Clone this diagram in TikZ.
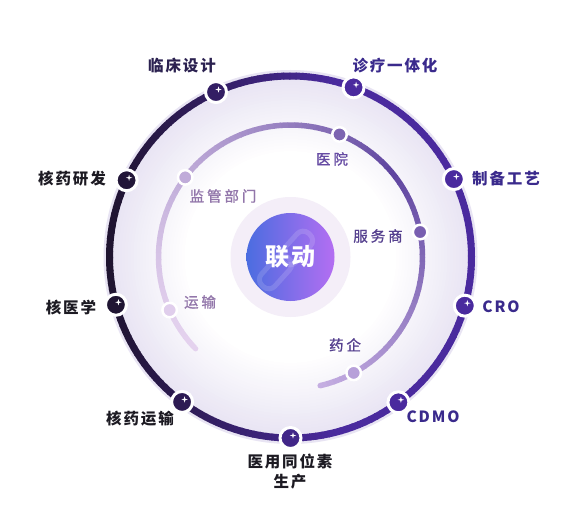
\documentclass[tikz,border=0pt]{standalone}
\usepackage{fontspec}
\usetikzlibrary{calc}
\newfontfamily\outerfont[LetterSpace=12]{Noto Sans CJK SC}
\newfontfamily\innerfont[LetterSpace=20,FakeBold=1.2]{Noto Sans CJK SC}
\newfontfamily\hubfont[LetterSpace=10]{Noto Sans CJK SC}

\definecolor{ringdark}{HTML}{1F1430}
\definecolor{ringpurple}{HTML}{4A2A9E}
\definecolor{innerdark}{HTML}{5E449F}
\definecolor{innerlightA}{HTML}{C5AEE2}
\definecolor{innerlightB}{HTML}{E4D2EE}
\definecolor{glowc}{HTML}{E8E4F3}
\definecolor{hubpale}{HTML}{F4EEF8}
\definecolor{hubblue}{HTML}{4B6DE0}
\definecolor{hubviolet}{HTML}{B46EF2}
\definecolor{lbldark}{HTML}{1C1A22}
\definecolor{lblmid}{HTML}{2B2150}
\definecolor{lblpurple}{HTML}{3A2A8C}
\definecolor{inlblA}{HTML}{664BA3}
\definecolor{inlblB}{HTML}{56418F}
\definecolor{inlblC}{HTML}{9276AA}

\tikzset{
  odot/.style={circle, inner sep=0pt, minimum size=21pt, draw=white, line width=3pt, fill=#1},
  idot/.style={circle, inner sep=0pt, minimum size=14.5pt, draw=white, line width=2.5pt, fill=#1},
  outlbl/.style={font=\outerfont\bfseries\fontsize{15.5}{20}\selectfont, text=#1, inner sep=0pt, align=center},
  inlbl/.style={font=\innerfont\fontsize{14.5}{16}\selectfont, text=#1, inner sep=0pt},
  chainlink/.style={draw=white, draw opacity=0.14, line width=5pt, rounded corners=8pt,
    minimum width=38pt, minimum height=18pt, rotate=48},
  sparkle/.pic={\fill[white] (0,3.2) .. controls (0.4,0.4) .. (3.2,0) .. controls (0.4,-0.4) .. (0,-3.2)
    .. controls (-0.4,-0.4) .. (-3.2,0) .. controls (-0.4,0.4) .. (0,3.2) -- cycle;}
}

\begin{document}
\begin{tikzpicture}[x=1pt,y=1pt]
\useasboundingbox (0,0) rectangle (580,531);
\fill[white] (0,0) rectangle (580,531);
\coordinate (c) at (290.5,274);

% soft glow inside the big ring
\foreach \r in {187,184,...,100}{
  \pgfmathsetmacro\g{max(0,min(100,100*(\r-105)/76))}
  \fill[glowc!\g!white] (c) circle[radius=\r];
}

% outer ring, dark on the left
\foreach \a in {0,2,...,358}{
  \pgfmathsetmacro\f{min(100,80*(1+cos(\a+1)))}
  \draw[line width=7pt, draw=ringpurple!\f!ringdark] ($(c)+(\a:181)$) arc[start angle=\a, end angle=\a+2.4, radius=181];
}

% inner arc
\foreach \a in {-77,-74,...,37}{
  \pgfmathsetmacro\f{100*(\a+78.5)/117}
  \draw[line width=5.5pt, draw=innerdark!\f!innerlightA] ($(c)+(\a:132)$) arc[start angle=\a, end angle=\a+3.4, radius=132];
}
\foreach \a in {40,43,...,220}{
  \pgfmathsetmacro\f{100*((222.5-\a)/184)^1.6}
  \pgfmathsetmacro\e{min(\a+3.4,224)}
  \draw[line width=5.5pt, draw=innerdark!\f!innerlightB] ($(c)+(\a:132)$) arc[start angle=\a, end angle=\e, radius=132];
}
\fill[innerlightA] ($(c)+(-77:132)$) circle[radius=2.75];
\fill[innerlightB] ($(c)+(224:132)$) circle[radius=2.75];

% dots on the outer ring
\foreach \ang/\nm in {114.3/dlc, 69.6/dzl, 25.5/dzb, -15.6/dcro, -53.4/dcdmo, -90/dyy, -126.8/dhy, 195.3/dhyx, 154.9/dhyf}{
  \pgfmathsetmacro\f{min(100,80*(1+cos(\ang)))}
  \node[odot=ringpurple!\f!ringdark] (\nm) at ($(c)+(\ang:181)$) {};
  \pic at ($(\nm)+(2.5,2.5)$) {sparkle};
}

% dots on the inner arc
\foreach \ang/\nm in {10.9/dfws, -61.4/dyq}{
  \pgfmathsetmacro\f{100*(\ang+77)/117}
  \node[idot=innerdark!\f!innerlightA] (\nm) at ($(c)+(\ang:132)$) {};
}
\foreach \ang/\nm in {68.2/dyuan, 142.9/djg, 203.7/dys}{
  \pgfmathsetmacro\f{100*((224-\ang)/184)^1.6}
  \node[idot=innerdark!\f!innerlightB] (\nm) at ($(c)+(\ang:132)$) {};
}

% hub
\node[circle, fill=hubpale, minimum size=120pt, inner sep=0pt] (halo) at (c) {};
\node[circle, minimum size=88pt, inner sep=0pt, left color=hubblue, right color=hubviolet] (hub) at (c) {};
\node[chainlink] (lk1) at ($(c)+(-15,-15)$) {};
\node[chainlink] (lk2) at ($(c)+(6,9)$) {};
\node[font=\hubfont\bfseries\fontsize{24}{26}\selectfont, text=white] (tld) at (c) {联动};

% outer labels
\node[outlbl=lblmid] (tlc) at (182,465) {临床设计};
\node[outlbl=lblpurple] (tzl) at (395,465) {诊疗一体化};
\node[outlbl=lblpurple] (tzb) at (506,352) {制备工艺};
\node[outlbl=lblpurple] (tcro) at (501,224) {CRO};
\node[outlbl=lblpurple] (tcdmo) at (433,114) {CDMO};
\node[outlbl=lbldark] (tyy) at (290,59) {医用同位素\\生产};
\node[outlbl=lbldark] (thy) at (140,112) {核药运输};
\node[outlbl=lbldark] (thyx) at (71,223) {核医学};
\node[outlbl=lbldark] (thyf) at (72,352) {核药研发};

% inner labels
\node[inlbl=inlblA] (tyuan) at (332,372) {医院};
\node[inlbl=inlblB] (tfws) at (378,295) {服务商};
\node[inlbl=inlblB] (tyq) at (345,186) {药企};
\node[inlbl=inlblC] (tjg) at (223,335) {监管部门};
\node[inlbl=inlblC] (tys) at (200,229) {运输};
\end{tikzpicture}
\end{document}
